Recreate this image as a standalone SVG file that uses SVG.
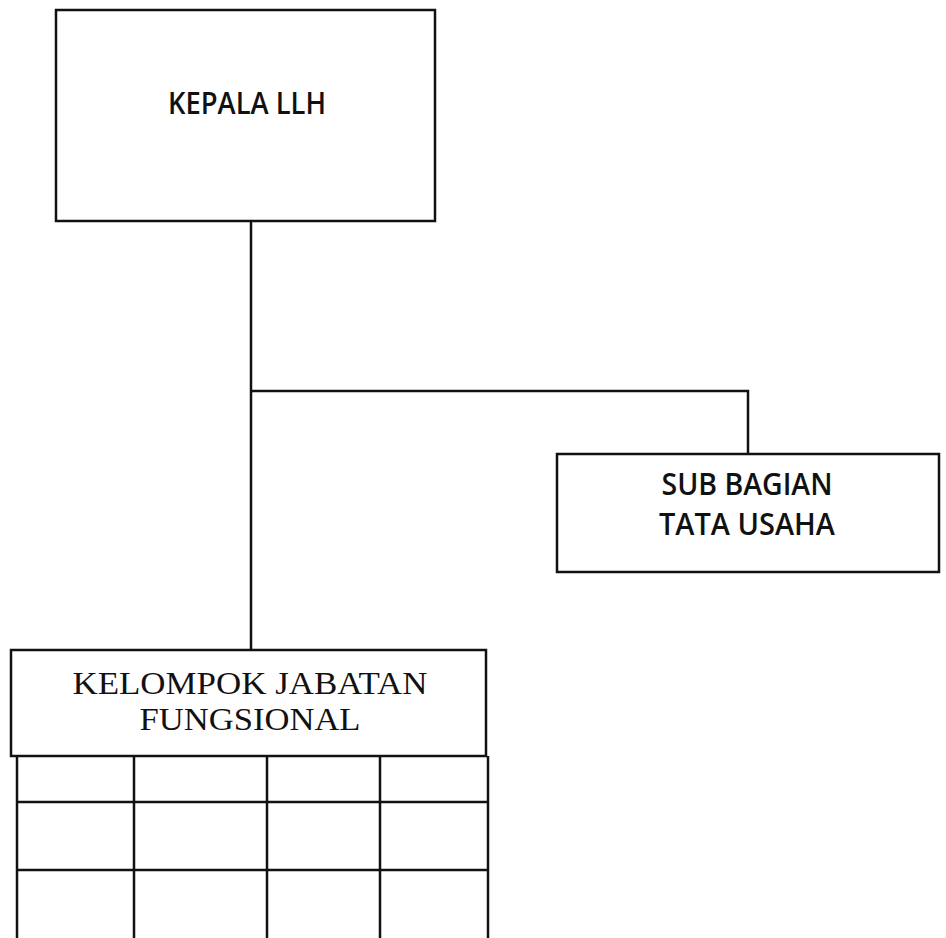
<svg xmlns="http://www.w3.org/2000/svg" width="946" height="938" viewBox="0 0 946 938">
<style>
.box{fill:#fff;stroke:#111;stroke-width:2.5}
.ln{fill:none;stroke:#111;stroke-width:2.5}
.sans{font-family:"Open Sans","Liberation Sans",sans-serif;font-size:30px;font-weight:600;fill:#111;text-anchor:middle}
.serif{font-family:"Liberation Serif","DejaVu Serif",serif;font-size:32px;fill:#111;text-anchor:middle}
</style>
<rect width="946" height="938" fill="#fff"/>
<g id="connectors">
<path class="ln" d="M251 221 V650"/>
<path class="ln" d="M251 391 H748 V454"/>
</g>
<g id="kepala">
<rect class="box" x="56" y="10" width="379" height="211"/>
<text class="sans" x="247" y="114" textLength="158" lengthAdjust="spacingAndGlyphs">KEPALA LLH</text>
</g>
<g id="subbagian">
<rect class="box" x="557" y="454" width="382" height="118"/>
<text class="sans" x="747" y="495" textLength="171" lengthAdjust="spacingAndGlyphs">SUB BAGIAN</text>
<text class="sans" x="747" y="535" textLength="176" lengthAdjust="spacingAndGlyphs">TATA USAHA</text>
</g>
<g id="kelompok">
<path class="ln" d="M17 756 V940 M134 756 V940 M267 756 V940 M380 756 V940 M488 756 V940 M17 802 H488 M17 870 H488"/>
<rect class="box" x="11" y="650" width="475" height="106"/>
<text class="serif" x="250" y="694" textLength="355" lengthAdjust="spacingAndGlyphs">KELOMPOK JABATAN</text>
<text class="serif" x="250" y="730" textLength="221" lengthAdjust="spacingAndGlyphs">FUNGSIONAL</text>
</g>
</svg>
